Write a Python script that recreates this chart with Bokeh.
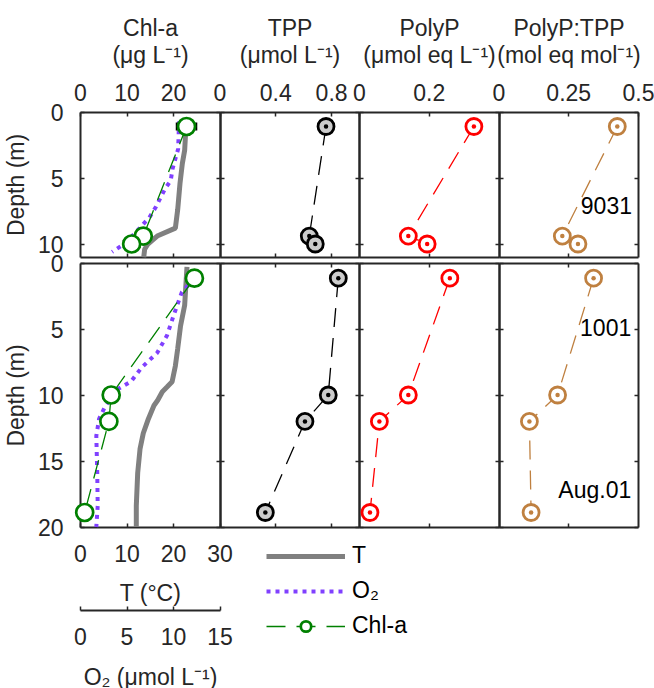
import numpy as np
from bokeh.plotting import figure
from bokeh.models import (Range1d, LinearAxis, FixedTicker, CustomJSTickFormatter,
                          Legend, LegendItem)
from bokeh.embed import file_html
from bokeh.resources import INLINE
from bokeh.core.properties import value

FONT = "Liberation Sans"
FS = "23px"
INK = "#262626"

# ---------------- data ----------------
# Station 9031 (top row)
s1_depth = [1.1, 9.4, 10.0]
s1_chl = [22.8, 13.5, 11.0]
s1_chl_sd = [2.1, 0.6, 1.7]
s1_tpp = [0.76, 0.64, 0.683]
s1_polyp = [0.328, 0.140, 0.194]
s1_ratio = [0.424, 0.227, 0.283]
s1_T_depth = [1.0, 2.9, 3.9, 5.4, 7.4, 8.8, 9.4, 10.0, 10.4, 11.0]
s1_T = [22.7, 22.4, 21.9, 21.4, 20.9, 20.4, 16.5, 14.5, 13.8, 13.6]
s1_O2_depth = [0.7, 2.8, 4.3, 5.2, 5.8, 6.5, 7.2, 8.0, 8.6, 9.0, 10.0, 10.6]
s1_O2 = [10.6, 10.5, 9.9, 9.7, 9.1, 8.6, 8.1, 7.4, 6.6, 6.1, 4.7, 3.4]

# Station 1001 (bottom row)
s2_depth = [1.15, 10.0, 12.0, 18.9]
s2_chl = [24.5, 6.6, 6.1, 0.9]
s2_chl_sd = [1.0, 0.8, 0.9, 0.5]
s2_tpp = [0.848, 0.776, 0.609, 0.325]
s2_polyp = [0.259, 0.140, 0.057, 0.030]
s2_ratio = [0.339, 0.210, 0.109, 0.115]
s2_T_depth = [0.3, 3.2, 4.8, 6.5, 7.8, 9.0, 9.4, 9.75, 10.4, 10.8, 11.9, 12.9, 14.1, 15.9, 18.4, 20.0]
s2_T = [22.9, 22.4, 21.5, 20.9, 20.4, 19.7, 18.6, 17.6, 16.6, 15.8, 14.5, 13.5, 12.8, 12.3, 12.0, 12.0]
s2_O2_depth = [0.7, 2.2, 4.0, 5.5, 6.8, 7.9, 9.0, 9.6, 10.8, 11.8, 13.1, 15.9, 18.4, 20.0]
s2_O2 = [12.9, 10.9, 10.0, 9.3, 8.25, 6.6, 5.4, 3.9, 2.7, 2.0, 1.7, 1.8, 1.85, 1.7]

station_labels = ["9031", "1001"]
date_label = "Aug.01"

# axis definitions
col_names = ["Chl-a", "TPP", "PolyP", "PolyP:TPP"]
col_units = ["(μg L⁻¹)", "(μmol L⁻¹)", "(μmol eq L⁻¹)", "(mol eq mol⁻¹)"]
top_ticks = [[0, 10, 20], [0, 0.4, 0.8], [0, 0.2], [0, 0.25, 0.5]]
edge_ticks = [[10, 20], [0.4, 0.8], [0.2], [0.25]]
domains = [(0, 30), (0, 1), (0, 0.4), (0, 0.5)]
range_names = ["default", "tpp", "polyp", "ratio"]
T_domain = (0, 30)
T_ticks = [0, 10, 20, 30]
O2_domain = (0, 15)
O2_ticks = [0, 5, 10, 15]
depth_max = [11, 20]
depth_ticks = [[0, 5, 10], [0, 5, 10, 15, 20]]

# ---------------- layout geometry (pixels) ----------------
W, H = 654, 688
X0, PW = 80.0, 139.5          # left edge of first panel, panel width
ROW_TOP = [111.5, 262.5]      # top edge of each row of panels
PXM = 13.2                    # pixels per metre of depth
O2_AXIS_Y = 609.5             # detached O2 axis

GREEN = "#008000"
GRAY = "#808080"
PURPLE = "#8040FF"
RED = "#FF0000"
BROWN = "#BF8040"
DASH = "19 11"


def xrange_for(lo, hi, col):
    k = (hi - lo) / PW
    start = lo - (X0 + PW * col) * k
    return Range1d(start, start + W * k)


def yrange_for(top):
    return Range1d((H - top) / PXM, -top / PXM)


p = figure(width=W, height=H, min_border_left=0, min_border_right=0,
           min_border_top=0, min_border_bottom=0,
           x_range=xrange_for(*domains[0], 0), y_range=yrange_for(ROW_TOP[0]),
           x_axis_type=None, y_axis_type=None,
           toolbar_location=None, output_backend="svg")
p.extra_x_ranges = {"tpp": xrange_for(*domains[1], 1),
                    "polyp": xrange_for(*domains[2], 2),
                    "ratio": xrange_for(*domains[3], 3),
                    "o2": xrange_for(*O2_domain, 0)}
p.extra_y_ranges = {"r2": yrange_for(ROW_TOP[1])}
row_names = ["default", "r2"]
p.title.visible = False
p.outline_line_color = None
p.background_fill_color = "white"
p.border_fill_color = "white"


def axis(side, loc, ticks, xname, yname, bounds, labels=False, label=None,
         line=True, tick_len=4, lstand=12, astand=8):
    ax = LinearAxis(fixed_location=loc, ticker=FixedTicker(ticks=ticks),
                    x_range_name=xname, y_range_name=yname, bounds=bounds,
                    level="underlay")
    ax.major_tick_in = tick_len
    ax.major_tick_out = 0
    ax.minor_tick_in = 0
    ax.minor_tick_out = 0
    ax.major_tick_line_color = INK
    ax.major_tick_line_width = 1.5
    ax.axis_line_color = INK if line else None
    ax.axis_line_width = 2
    ax.major_label_standoff = lstand
    if labels:
        ax.formatter = CustomJSTickFormatter(code="return String(tick)")
        ax.major_label_text_font = FONT
        ax.major_label_text_font_size = FS
        ax.major_label_text_color = INK
    else:
        ax.major_label_text_color = None
    if label:
        ax.axis_label = label
        ax.axis_label_text_font = FONT
        ax.axis_label_text_font_size = FS
        ax.axis_label_text_font_style = "normal"
        ax.axis_label_text_color = INK
        ax.axis_label_standoff = astand
    p.add_layout(ax, side)
    return ax


def draw_station(yname, depth, chl, chl_sd, tpp, polyp, ratio, T_d, T, O2_d, O2):
    t_r = p.line(T, T_d, y_range_name=yname, line_width=5, line_color=GRAY)
    o_r = p.line(O2, O2_d, x_range_name="o2", y_range_name=yname, line_width=4,
                 line_color=PURPLE, line_dash="4 5")
    chl_a = np.array(chl)
    sd = np.array(chl_sd)
    d = np.array(depth)
    p.segment(chl_a - sd, d, chl_a + sd, d, y_range_name=yname, line_color="black", line_width=2)
    p.segment(chl_a - sd, d - 0.3, chl_a - sd, d + 0.3, y_range_name=yname, line_color="black", line_width=2)
    p.segment(chl_a + sd, d - 0.3, chl_a + sd, d + 0.3, y_range_name=yname, line_color="black", line_width=2)
    c_line = p.line(chl, depth, y_range_name=yname, line_color=GREEN, line_width=1.3, line_dash=DASH)
    c_pts = p.scatter(chl, depth, y_range_name=yname, marker="circle", size=17,
                      line_color=GREEN, line_width=2.7, fill_color="white")
    for vals, name, col, fill in [(tpp, "tpp", "black", "#CCCCCC"),
                                  (polyp, "polyp", RED, "white"),
                                  (ratio, "ratio", BROWN, "white")]:
        p.line(vals, depth, x_range_name=name, y_range_name=yname, line_color=col,
               line_width=1.3, line_dash=DASH)
        p.scatter(vals, depth, x_range_name=name, y_range_name=yname, marker="circle",
                  size=16, line_color=col, line_width=2.8, fill_color=fill)
        p.scatter(vals, depth, x_range_name=name, y_range_name=yname, marker="circle",
                  size=4.5, line_color=None, fill_color=col)
    return t_r, o_r, c_line, c_pts


# ---------------- glyphs ----------------
draw_station("default", s1_depth, s1_chl, s1_chl_sd, s1_tpp, s1_polyp, s1_ratio,
             s1_T_depth, s1_T, s1_O2_depth, s1_O2)
t2, o2r, cl2, cp2 = draw_station("r2", s2_depth, s2_chl, s2_chl_sd, s2_tpp, s2_polyp,
                                  s2_ratio, s2_T_depth, s2_T, s2_O2_depth, s2_O2)

# ---------------- panel frames, ticks and labels ----------------
for r in range(2):
    yname = row_names[r]
    dmax = depth_max[r]
    for i in range(4):
        lo, hi = domains[i]
        xname = range_names[i]
        # top edge
        if r == 0:
            axis("above", 0, top_ticks[i], xname, yname, (lo, hi), labels=True,
                 label=col_units[i], lstand=11, astand=14)
            axis("above", 0, [], xname, yname, (lo, hi), label=col_names[i],
                 line=False, lstand=0, astand=72)
        else:
            axis("above", 0, edge_ticks[i], xname, yname, (lo, hi))
        # bottom edge
        if r == 1 and i == 0:
            axis("below", dmax, T_ticks, xname, yname, T_domain, labels=True,
                 label="T (°C)", lstand=18, astand=14)
        else:
            axis("below", dmax, edge_ticks[i], xname, yname, (lo, hi))
        # left edge
        if i == 0:
            axis("left", lo, depth_ticks[r], xname, yname, (0, dmax), labels=True,
                 label="Depth (m)", lstand=17, astand=6)
        else:
            axis("left", lo, depth_ticks[r], xname, yname, (0, dmax))
        # right edge
        axis("right", hi, depth_ticks[r], xname, yname, (0, dmax))

# detached O2 axis under the first panel column
o2_loc = (O2_AXIS_Y - ROW_TOP[1]) / PXM
axis("below", o2_loc, O2_ticks, "o2", "r2", O2_domain, labels=True,
     label="O₂ (μmol L⁻¹)", lstand=18, astand=15)

# station / date labels
p.text(x=[0.4767], y=[7.08], text=[station_labels[0]], x_range_name="ratio",
       text_align="right", text_baseline="middle", text_font=value(FONT),
       text_font_size=FS, text_color="black")
p.text(x=[0.474, 0.474], y=[4.89, 17.16], text=[station_labels[1], date_label],
       x_range_name="ratio", y_range_name="r2", text_align="right",
       text_baseline="middle", text_font=value(FONT), text_font_size=FS,
       text_color="black")

legend = Legend(items=[LegendItem(label="T", renderers=[t2]),
                       LegendItem(label="O₂", renderers=[o2r]),
                       LegendItem(label="Chl-a", renderers=[cl2, cp2])],
                location=(266, 49), orientation="vertical",
                glyph_width=79, glyph_height=26, label_height=26,
                label_standoff=7, spacing=8, padding=0, margin=0,
                border_line_color=None, background_fill_alpha=0,
                label_text_font=FONT, label_text_font_size=FS, label_text_color="black")
p.add_layout(legend)

open("out.html", "w").write(file_html(p, INLINE))
